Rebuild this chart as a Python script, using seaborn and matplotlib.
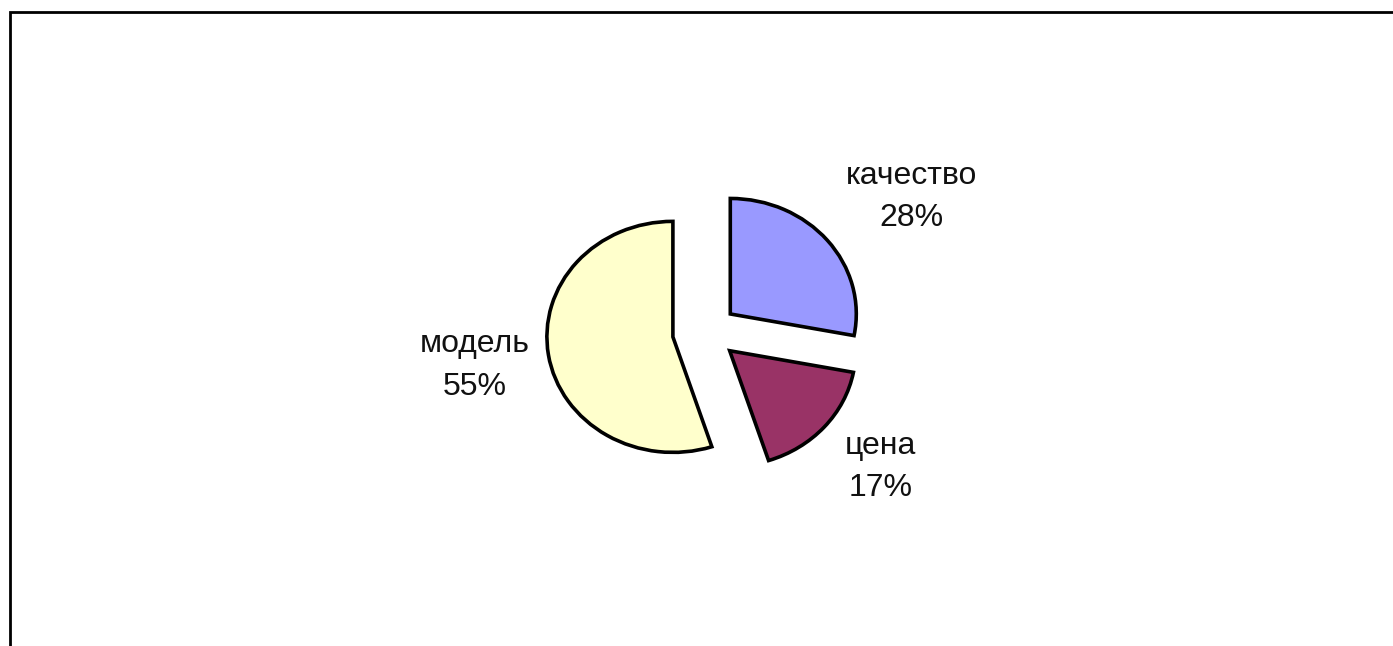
import matplotlib
matplotlib.use('Agg')
import matplotlib.pyplot as plt
import seaborn as sns
from matplotlib.patches import Rectangle

sns.set_style('white')
plt.rcParams['font.family'] = ['Liberation Sans', 'DejaVu Sans']

# данные
categories = ['качество', 'цена', 'модель']
shares = [28, 17, 55]
colors = ['#9999FF', '#993366', '#FFFFCC']
explode = [0.245, 0.245, 0.27]

# положение подписей (в радиусах от центра)
label_xy = [(1.63, 1.17), (1.38, -1.17), (-1.84, -0.29)]

fig = plt.figure(figsize=(13.93, 6.46), dpi=100)
ax = fig.add_axes([0, 0, 1, 1])

wedges, _ = ax.pie(shares, colors=colors, explode=explode, startangle=90,
                   counterclock=False, radius=1, center=(0, 0),
                   wedgeprops=dict(edgecolor='black', linewidth=2.6))

for (x, y), name, val in zip(label_xy, categories, shares):
    ax.text(x, y, f'{name}\n{val}%', ha='center', va='center', fontsize=23,
            color='#111111', linespacing=1.55)

# эллипс как в оригинале: 126 px по горизонтали, 115.5 px по вертикали
cx, cy, rx, ry = 706.5, 332, 126, 115.5
ax.set_aspect('auto')
ax.set_xlim(-cx / rx, (1393 - cx) / rx)
ax.set_ylim(-(646 - cy) / ry, cy / ry)
ax.axis('off')

# рамка области диаграммы
fig.patches.append(Rectangle((10 / 1393, -0.1), 1.2, 1 - 12 / 646 + 0.1,
                             transform=fig.transFigure, fill=False,
                             edgecolor='black', linewidth=2))

fig.savefig('out.png', dpi=100)
